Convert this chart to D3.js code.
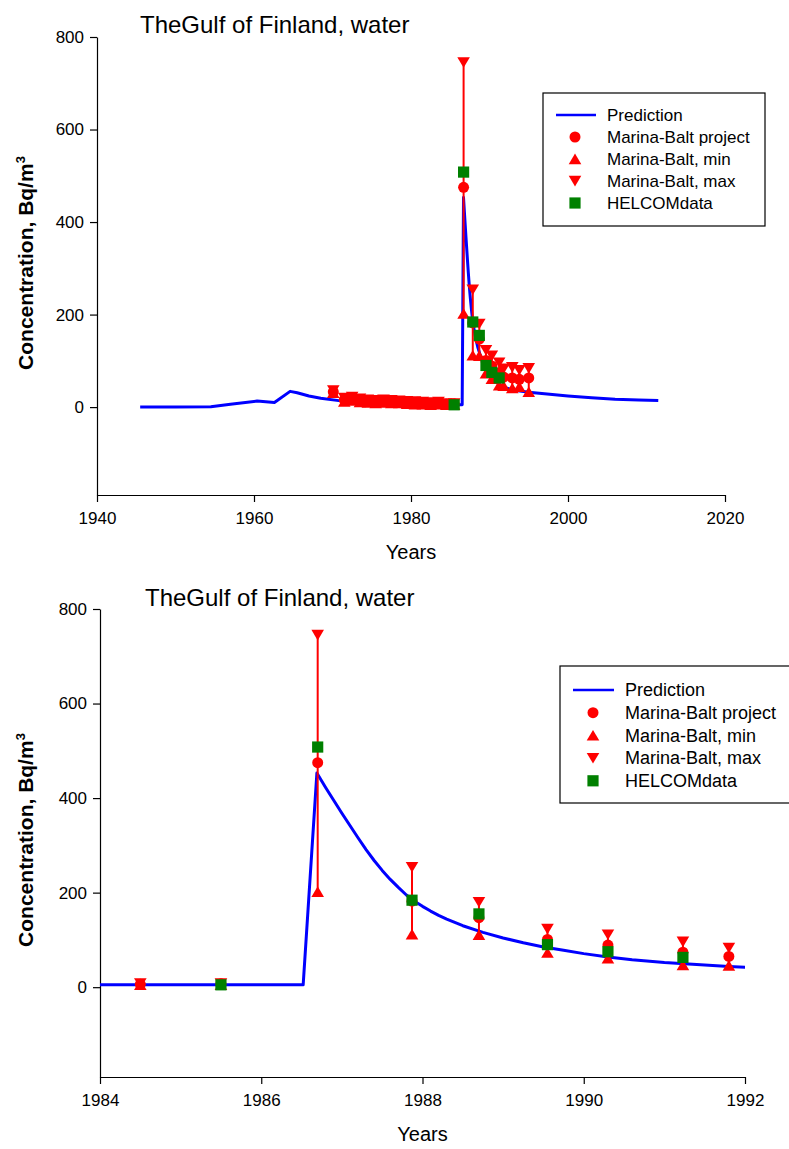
<!DOCTYPE html>
<html>
<head>
<meta charset="utf-8">
<script src="https://cdn.jsdelivr.net/npm/d3@7"></script>
<style>
  body { margin: 0; background: #fff; }
  svg { display: block; font-family: "Liberation Sans", Arial, sans-serif; }
</style>
</head>
<body>
<div id="chart"></div>
<script>
// model prediction
const predYears = [1945.5, 1950, 1954.5, 1957, 1960.4, 1962.6, 1964.6, 1965.5, 1967, 1968.5, 1970.8, 1975, 1980, 1984,
  1986.52, 1986.69, 1986.8, 1986.9, 1987.0, 1987.1, 1987.2, 1987.3, 1987.4, 1987.5, 1987.6, 1987.7, 1987.8, 1987.9,
  1988.0, 1988.1, 1988.2, 1988.3, 1988.4, 1988.5, 1988.75, 1989.0, 1989.25, 1989.5, 1989.75, 1990.0, 1990.3, 1990.6,
  1991.0, 1991.4, 1991.8, 1992.0, 1993, 1995, 1998, 2000, 2003, 2006, 2009, 2011.5];
const predValues = [0, 0, 1, 6, 13, 10, 34, 31, 24, 19, 14, 10, 7, 5,
  5, 453, 422, 395, 368, 342, 316, 291, 268, 247, 228, 211, 195, 182,
  171, 161, 152, 144, 137, 130, 116, 104, 94, 85, 78, 71, 64, 58,
  52, 48, 44, 42, 37, 32, 27, 24, 20, 17, 15.5, 14];

// Marina-Balt project
const mbYears = [1970.1, 1971.5, 1972.5, 1973.5, 1974.5, 1975.5, 1976.5, 1977.5, 1978.5, 1979.5, 1980.5, 1981.5, 1982.5,
  1983.5, 1984.5, 1985.5, 1986.7, 1987.87, 1988.7, 1989.55, 1990.3, 1991.23, 1991.8, 1992.9, 1993.8, 1995.0];
const mbValues = [33, 16, 18, 15, 13, 12, 13, 12, 12, 10, 9, 9, 8, 9, 6, 7, 475, 182, 147, 101, 89, 74, 65, 63, 60, 63];
const mbMin = [31, 12, 14, 11, 10, 9, 10, 9, 9, 7, 6, 6, 5, 6, 5, 5, 202, 112, 111, 73, 61, 47, 46, 41, 44, 33];
const mbMax = [36, 20, 22, 18, 16, 15, 16, 15, 14, 13, 12, 11, 10, 11, 8, 8, 745, 254, 180, 123, 111, 96, 83, 86, 80, 84];

// HELCOM
const helcomYears = [1985.5, 1986.7, 1987.87, 1988.7, 1989.55, 1990.3, 1991.23];
const helcomValues = [5, 508, 184, 155, 90, 75, 63];

const legendLabels = ["Prediction", "Marina-Balt project", "Marina-Balt, min", "Marina-Balt, max", "HELCOMdata"];
const yTicks = [0, 200, 400, 600, 800];
const yDomain = [-190, 800];
const titleText = "TheGulf of Finland, water";

const blue = "#0000ff", red = "#ff0000", green = "#008000";

const svg = d3.select("#chart").append("svg")
  .attr("width", 789)
  .attr("height", 1149);

const upTri = "M-6.3,5.2L6.3,5.2L0,-5.4Z";
const downTri = "M-6.3,-5.2L6.3,-5.2L0,5.4Z";
const square = "M-5.6,-5.6H5.6V5.6H-5.6Z";

function drawMarker(sel, kind) {
  if (kind === "circle") {
    sel.append("circle").attr("r", 5.5).attr("fill", red);
  } else if (kind === "up") {
    sel.append("path").attr("d", upTri).attr("fill", red);
  } else if (kind === "down") {
    sel.append("path").attr("d", downTri).attr("fill", red);
  } else {
    sel.append("path").attr("d", square).attr("fill", green);
  }
}

function panel(cfg) {
  const x = d3.scaleLinear().domain(cfg.xDomain).range([cfg.left, cfg.right]);
  const y = d3.scaleLinear().domain(yDomain).range([cfg.bottom, cfg.top]);
  const inX = yr => yr >= cfg.xDomain[0] && yr <= cfg.xDomain[1];

  const g = svg.append("g");

  g.append("clipPath").attr("id", cfg.name)
    .append("rect")
    .attr("x", cfg.left).attr("y", cfg.top - 30)
    .attr("width", cfg.right - cfg.left).attr("height", cfg.bottom - cfg.top + 30);

  // axes
  const yAxis = g.append("g")
    .attr("transform", `translate(${cfg.left},0)`)
    .call(d3.axisLeft(y).tickValues(yTicks).tickSize(7).tickPadding(6).tickSizeOuter(0));
  const xAxis = g.append("g")
    .attr("transform", `translate(0,${cfg.bottom})`)
    .call(d3.axisBottom(x).tickValues(cfg.xTicks).tickSize(7).tickPadding(10).tickSizeOuter(0).tickFormat(d3.format("d")));
  [yAxis, xAxis].forEach(a => {
    a.attr("font-family", null).attr("font-size", null);
    a.selectAll("text").style("font-size", "17px").attr("fill", "#000");
    a.selectAll("line, path").attr("stroke", "#000").attr("stroke-width", 1.2);
  });

  // title + axis labels
  g.append("text")
    .attr("x", cfg.titleX).attr("y", cfg.titleY)
    .style("font-size", "24px")
    .text(titleText);

  g.append("text")
    .attr("transform", `translate(33,${(cfg.top + cfg.bottom) / 2 - 3}) rotate(-90)`)
    .attr("text-anchor", "middle")
    .style("font-size", "21px")
    .style("font-weight", "bold")
    .html('Concentration, Bq/m<tspan dy="-8" font-size="13px">3</tspan>');

  g.append("text")
    .attr("x", (cfg.left + cfg.right) / 2).attr("y", cfg.bottom + 64)
    .attr("text-anchor", "middle")
    .style("font-size", "20px")
    .text("Years");

  // prediction
  const pred = predYears.map((yr, i) => [yr, predValues[i]]);
  g.append("path")
    .datum(pred)
    .attr("clip-path", `url(#${cfg.name})`)
    .attr("fill", "none")
    .attr("stroke", blue)
    .attr("stroke-width", 3)
    .attr("stroke-linejoin", "round")
    .attr("d", d3.line().x(d => x(d[0])).y(d => y(d[1])));

  const mb = mbYears.map((yr, i) => ({ yr, v: mbValues[i], lo: mbMin[i], hi: mbMax[i] })).filter(d => inX(d.yr));
  const hel = helcomYears.map((yr, i) => ({ yr, v: helcomValues[i] })).filter(d => inX(d.yr));

  // error bars
  g.append("g").selectAll("line")
    .data(mb)
    .join("line")
    .attr("x1", d => x(d.yr)).attr("x2", d => x(d.yr))
    .attr("y1", d => y(d.hi)).attr("y2", d => y(d.lo))
    .attr("stroke", red)
    .attr("stroke-width", 2);

  const layers = [
    [mb, d => d.v, "circle"],
    [mb, d => d.lo, "up"],
    [mb, d => d.hi, "down"],
    [hel, d => d.v, "square"]
  ];
  layers.forEach(([data, val, kind]) => {
    g.append("g").selectAll("g")
      .data(data)
      .join("g")
      .attr("transform", d => `translate(${x(d.yr)},${y(val(d))})`)
      .call(s => drawMarker(s, kind));
  });

  // legend
  const L = cfg.legend;
  const lg = g.append("g");
  lg.append("rect")
    .attr("x", L.x).attr("y", L.y).attr("width", L.w).attr("height", L.h)
    .attr("fill", "#fff").attr("stroke", "#000").attr("stroke-width", 1.2);
  const kinds = ["line", "circle", "up", "down", "square"];
  legendLabels.forEach((label, i) => {
    const cy = L.row0 + i * L.step;
    if (kinds[i] === "line") {
      lg.append("line")
        .attr("x1", L.line0).attr("x2", L.line1).attr("y1", cy).attr("y2", cy)
        .attr("stroke", blue).attr("stroke-width", 2.5);
    } else {
      lg.append("g").attr("transform", `translate(${L.mark},${cy})`).call(s => drawMarker(s, kinds[i]));
    }
    lg.append("text")
      .attr("x", L.text).attr("y", cy).attr("dy", "0.35em")
      .style("font-size", `${L.font}px`)
      .text(label);
  });
}

panel({
  name: "clipTop",
  left: 97, right: 725, top: 37, bottom: 495,
  xDomain: [1940, 2020], xTicks: [1940, 1960, 1980, 2000, 2020],
  titleX: 140, titleY: 33,
  legend: { x: 543, y: 93, w: 222, h: 133, line0: 556, line1: 596, mark: 575, text: 607, row0: 115, step: 22, font: 17 }
});

panel({
  name: "clipBottom",
  left: 100, right: 745, top: 609, bottom: 1077,
  xDomain: [1984, 1992], xTicks: [1984, 1986, 1988, 1990, 1992],
  titleX: 145, titleY: 606,
  legend: { x: 560, y: 666, w: 240, h: 137, line0: 573, line1: 614, mark: 593, text: 625, row0: 690, step: 22.7, font: 18 }
});
</script>
</body>
</html>
